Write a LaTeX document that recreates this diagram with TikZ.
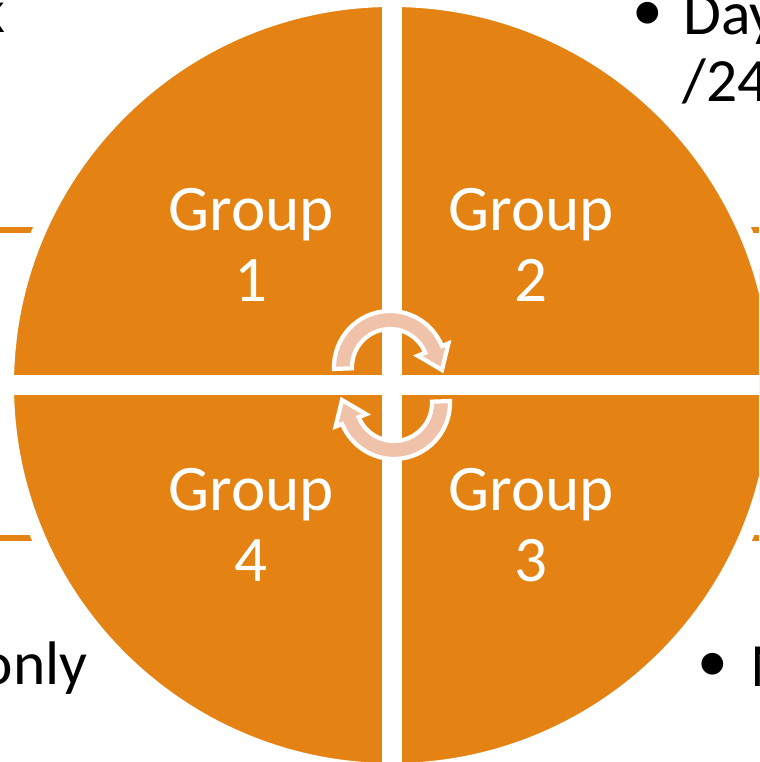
\documentclass[tikz,border=0pt]{standalone}
\usepackage{fontspec}
\setmainfont{Carlito}
\definecolor{quadorange}{RGB}{228,131,20}
\definecolor{arrowpeach}{RGB}{240,194,170}
\tikzset{
  grouplabel/.style={text=white, align=center, font=\fontsize{18.5}{20}\selectfont},
  sidetext/.style={text=black, inner sep=0pt, font=\fontsize{17.5}{19}\selectfont},
  cyclearrow/.style={fill=arrowpeach, draw=white, line width=1.2pt},
  gridline/.style={quadorange, line width=1.5pt},
}
\begin{document}
\begin{tikzpicture}
\useasboundingbox (0,0) rectangle (7.59,7.62);
\clip (0,0) rectangle (7.59,7.62);
% table lines behind the circle
\draw[gridline] (0,5.32) -- (7.59,5.32);
\draw[gridline] (0,2.24) -- (7.59,2.24);
\draw[gridline] (4.40,7.62) -- (4.40,3.8);
\draw[gridline] (4.87,0) -- (4.87,3.8);
% side texts
\node[sidetext, anchor=base east] (txtk) at (0.06,7.29) {k};
\node[sidetext] (bul1) at (6.48,7.46) {\textbullet};
\node[sidetext, anchor=base west] (txtday) at (6.83,7.27) {Day};
\node[sidetext, anchor=base west] (txt24) at (6.82,6.60) {/24};
\node[sidetext, anchor=base east] (txtonly) at (0.88,0.77) {only};
\node[sidetext] (bul2) at (7.13,0.95) {\textbullet};
\node[sidetext, anchor=base west] (txtm) at (7.50,0.75) {M};
\begin{scope}[shift={(3.92,3.77)}]
% quadrants
\fill[quadorange, draw=white, line width=0.14cm] (0,0) circle (3.85);
\fill[white] (-0.10,-3.95) rectangle (0.10,3.95);
\fill[white] (-3.95,-0.10) rectangle (3.95,0.10);
\node[grouplabel] (g1) at (-1.41,1.40) {Group\\1};
\node[grouplabel] (g2) at (1.39,1.40) {Group\\2};
\node[grouplabel] (g3) at (1.39,-1.40) {Group\\3};
\node[grouplabel] (g4) at (-1.41,-1.40) {Group\\4};
% cycle arrows
\begin{scope}[shift={(-0.02,0.18)}]
\path[cyclearrow] (182:0.56) arc[start angle=182, end angle=22, radius=0.56] -- (22:0.63) -- (0.52,-0.03) -- (22:0.30) -- (22:0.38) arc[start angle=22, end angle=182, radius=0.38] -- cycle;
\end{scope}
\begin{scope}[shift={(0.02,-0.18)}, rotate=180]
\path[cyclearrow] (182:0.56) arc[start angle=182, end angle=22, radius=0.56] -- (22:0.63) -- (0.52,-0.03) -- (22:0.30) -- (22:0.38) arc[start angle=22, end angle=182, radius=0.38] -- cycle;
\end{scope}
\end{scope}
\end{tikzpicture}
\end{document}
